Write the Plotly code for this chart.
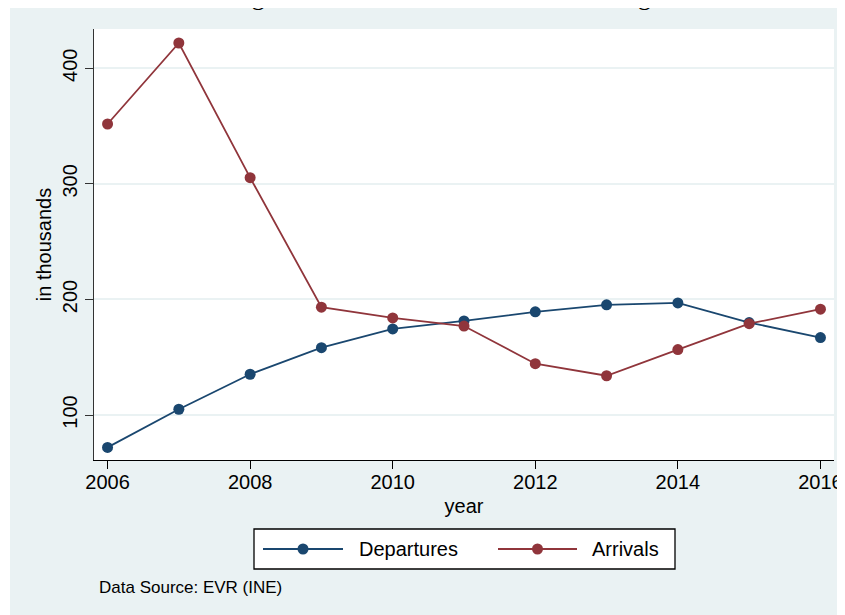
import plotly.graph_objects as go

years = [2006, 2007, 2008, 2009, 2010, 2011, 2012, 2013, 2014, 2015, 2016]
departures = [72, 105, 135.3, 158.3, 174.5, 181.4, 189.3, 195.4, 197, 180, 167]
arrivals = [351.8, 421.9, 305.4, 193.3, 184, 177, 144.4, 134, 156.6, 179, 191.6]
series_names = ["Departures", "Arrivals"]
x_ticks = [2006, 2008, 2010, 2012, 2014, 2016]
y_ticks = [100, 200, 300, 400]

NAVY = "#1A476F"
MAROON = "#90353B"
BG = "#EAF2F3"
FONT = "Liberation Sans, Arial, Helvetica, sans-serif"

OFF = 8  # page offset of the figure (body margin)
W, H = 845 - OFF, 615 - OFF
L, R, T, B = 94 - OFF, 834 - OFF, 29 - OFF, 460 - OFF  # plot area in figure pixels


def px(x):  # page x pixel -> paper
    return (x - OFF - L) / (R - L)


def py(y):  # page y pixel -> paper
    return (B - (y - OFF)) / (B - T)


fig = go.Figure()
fig.add_trace(go.Scatter(x=years, y=departures, name=series_names[0], mode="lines+markers",
                         line=dict(color=NAVY, width=1.8), marker=dict(color=NAVY, size=11),
                         showlegend=False))
fig.add_trace(go.Scatter(x=years, y=arrivals, name=series_names[1], mode="lines+markers",
                         line=dict(color=MAROON, width=1.8), marker=dict(color=MAROON, size=11),
                         showlegend=False))

shapes = [
    # thin white strip at the left edge of the graph region
    dict(type="rect", xref="paper", yref="paper", x0=px(0), x1=px(10), y0=py(700), y1=py(0),
         fillcolor="white", line=dict(width=0), layer="below"),
    # legend box
    dict(type="rect", xref="paper", yref="paper", x0=px(254), x1=px(675), y0=py(569), y1=py(529),
         fillcolor="white", line=dict(color="black", width=1.3), layer="above"),
]
annotations = []
legend_items = [(series_names[0], NAVY, 263, 343, 357), (series_names[1], MAROON, 498, 577, 590)]
ly = 549
for name, col, x0, x1, tx in legend_items:
    shapes.append(dict(type="line", xref="paper", yref="paper", x0=px(x0), x1=px(x1), y0=py(ly), y1=py(ly),
                       line=dict(color=col, width=1.8), layer="above"))
    cx = (x0 + x1) / 2
    shapes.append(dict(type="circle", xref="paper", yref="paper", xsizemode="pixel", ysizemode="pixel",
                       xanchor=px(cx), yanchor=py(ly), x0=-5.5, x1=5.5, y0=-5.5, y1=5.5,
                       fillcolor=col, line=dict(color=col, width=0), layer="above"))
    annotations.append(dict(text=name, xref="paper", yref="paper", x=px(tx), y=py(ly), xanchor="left",
                            yanchor="middle", showarrow=False, font=dict(family=FONT, size=20, color="black")))

annotations.append(dict(text="Data Source: EVR (INE)", xref="paper", yref="paper", x=px(97), y=py(587),
                        xanchor="left", yanchor="middle", showarrow=False,
                        font=dict(family=FONT, size=17, color="black")))
annotations.append(dict(text="Figure 33: International Flows of Immigrants", xref="paper", yref="paper",
                        x=px(466), y=py(13), xanchor="center", yanchor="bottom", showarrow=False,
                        font=dict(family="Liberation Serif, serif", size=26, color="black")))

fig.update_layout(
    width=W, height=H,
    margin=dict(l=L, r=W - R, t=T, b=H - B, pad=0, autoexpand=False),
    paper_bgcolor=BG, plot_bgcolor="white",
    font=dict(family=FONT, size=20, color="black"),
    shapes=shapes, annotations=annotations,
    xaxis=dict(range=[2005.81, 2016.19], tickvals=x_ticks, ticktext=[str(t) for t in x_ticks],
               showgrid=False, zeroline=False, showline=True, linecolor="black", linewidth=1.3,
               ticks="outside", ticklen=8, tickwidth=1.3, tickcolor="black", ticklabelstandoff=-4,
               title=dict(text="year", font=dict(size=20), standoff=6), automargin=False,
               tickfont=dict(size=20)),
    yaxis=dict(range=[61.1, 434], tickvals=y_ticks, ticktext=[str(t) for t in y_ticks],
               showgrid=True, gridcolor=BG, gridwidth=1.5, zeroline=False,
               showline=True, linecolor="#333333", linewidth=1.3,
               ticks="outside", ticklen=8, tickwidth=1.3, tickcolor="#333333", tickangle=-90,
               title=dict(text="in thousands", font=dict(size=20), standoff=1), automargin=False,
               tickfont=dict(size=20)),
)

fig.write_html("out.html")
